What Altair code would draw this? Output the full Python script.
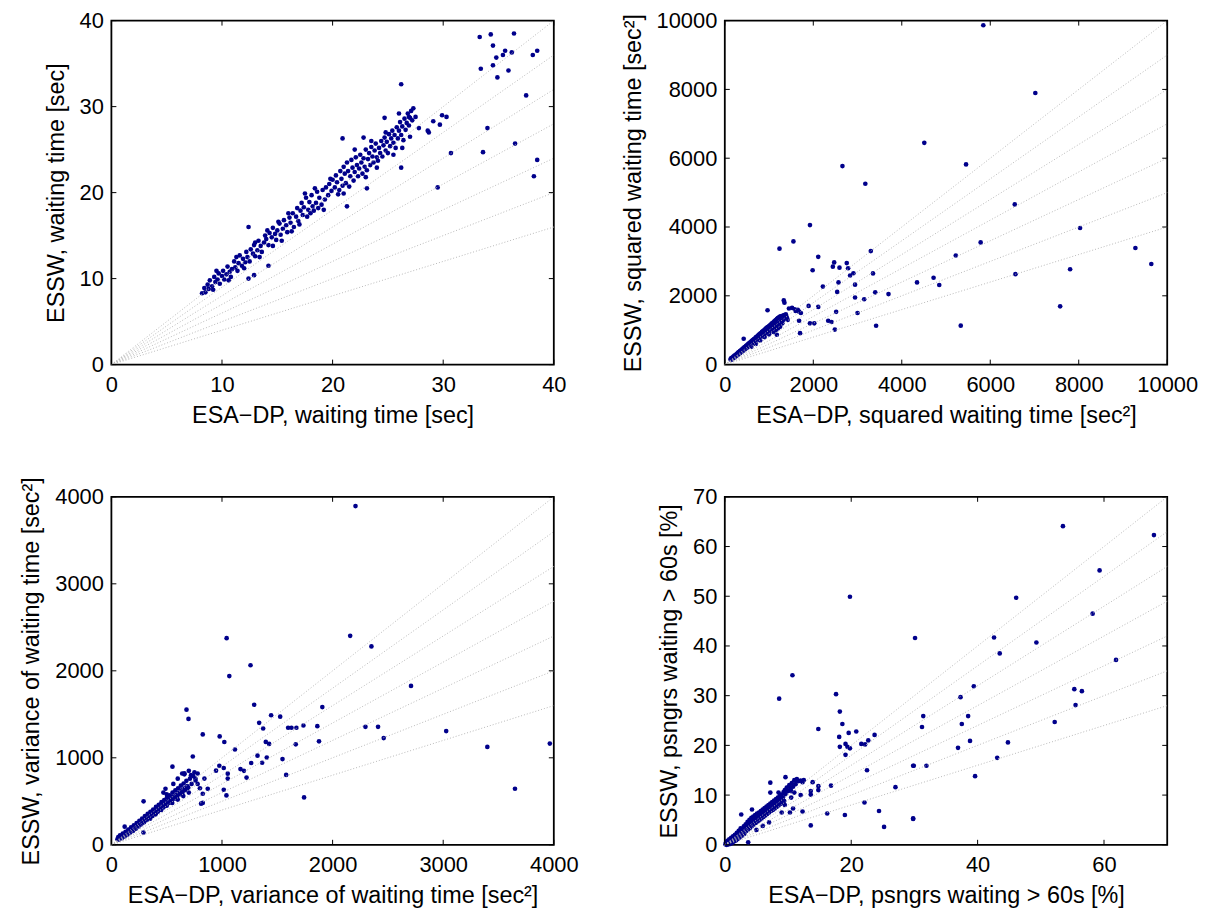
import altair as alt
import pandas as pd

# ---------------- data ----------------
SLOPES = [1.0, 0.9, 0.8, 0.7, 0.6, 0.5, 0.4]

p1_ticks = [0, 10, 20, 30, 40]
p2_ticks = [0, 2000, 4000, 6000, 8000, 10000]
p3_ticks = [0, 1000, 2000, 3000, 4000]
p4_xticks = [0, 20, 40, 60]
p4_yticks = [0, 10, 20, 30, 40, 50, 60, 70]

p1_points = [
    (8.2, 8.3), (8.4, 8.9), (8.5, 8.4), (8.7, 9.3), (8.8, 8.8), (8.9, 9.8), (9.1, 9.1), (9.2, 8.7),
    (9.3, 10.2), (9.4, 9.6), (9.6, 9.9), (9.7, 10.6), (9.8, 9.4), (10.0, 10.3), (10.1, 10.9), (10.2, 9.9),
    (10.4, 10.5), (10.5, 11.4), (10.7, 10.8), (10.8, 10.2), (10.9, 11.1), (11.1, 12.0), (11.2, 11.3),
    (11.4, 10.9), (11.5, 11.8), (11.6, 12.7), (11.8, 11.5), (11.9, 12.3), (12.1, 11.9), (12.2, 13.1),
    (12.3, 12.5), (12.5, 12.0), (12.6, 13.4), (12.8, 12.9), (12.9, 13.9), (13.0, 12.6), (13.2, 13.3),
    (13.3, 14.4), (13.5, 13.8), (13.6, 13.1), (13.8, 14.2), (13.9, 15.0), (14.0, 14.6), (14.2, 13.9),
    (14.3, 15.3), (14.5, 14.8), (14.6, 15.9), (14.8, 15.2), (14.9, 14.5), (15.0, 15.6), (15.2, 16.4),
    (15.3, 15.1), (15.5, 15.8), (15.6, 16.8), (15.8, 16.2), (15.9, 15.4), (16.1, 17.1), (16.2, 16.5),
    (16.4, 17.6), (16.5, 16.0), (16.7, 17.2), (16.8, 18.2), (16.9, 16.7), (17.1, 17.9), (17.2, 18.8),
    (17.3, 17.4), (17.4, 18.3), (17.6, 19.4), (17.7, 17.2), (17.8, 18.0), (17.9, 18.9), (18.0, 17.6),
    (18.1, 19.7), (18.2, 18.4), (18.3, 17.9), (18.5, 18.8), (18.6, 20.1), (18.7, 18.2), (18.8, 19.4),
    (19.0, 18.6), (19.1, 20.3), (19.3, 19.2), (19.4, 20.6), (19.6, 19.7), (19.7, 21.0), (19.9, 20.2),
    (20.0, 21.5), (20.2, 20.6), (20.3, 22.0), (20.4, 21.2), (20.6, 20.3), (20.7, 22.5), (20.8, 21.6),
    (20.9, 20.8), (21.0, 23.0), (21.1, 22.2), (21.2, 21.1), (21.3, 23.5), (21.4, 22.5), (21.5, 20.7),
    (21.6, 21.9), (21.7, 23.8), (21.8, 22.9), (21.9, 21.4), (22.0, 22.4), (22.1, 24.1), (22.2, 23.2),
    (22.3, 21.9), (22.4, 22.8), (22.5, 24.4), (22.6, 23.5), (22.7, 22.2), (22.8, 24.0), (22.9, 23.0),
    (23.0, 25.0), (23.1, 22.6), (23.2, 23.9), (23.3, 24.6), (23.4, 23.2), (23.5, 25.3), (23.6, 24.2),
    (23.7, 23.5), (23.8, 24.9), (23.9, 25.7), (24.0, 24.1), (24.1, 23.7), (24.2, 25.2), (24.3, 24.6),
    (24.4, 26.0), (24.5, 24.2), (24.6, 25.5), (24.7, 26.4), (24.8, 24.9), (24.9, 25.9), (25.0, 24.6),
    (25.1, 26.8), (25.2, 25.4), (25.3, 26.3), (25.4, 27.2), (25.5, 25.8), (25.6, 26.7), (25.7, 25.2),
    (25.8, 27.6), (25.9, 26.3), (26.0, 27.2), (26.1, 28.2), (26.2, 26.7), (26.3, 27.7), (26.4, 26.1),
    (26.5, 28.6), (26.6, 27.3), (26.7, 28.1), (26.8, 29.2), (26.9, 27.8), (27.0, 28.7), (27.1, 29.5),
    (27.2, 28.4), (27.3, 29.8),
    (9.5, 10.9), (10.6, 9.8), (11.3, 12.5), (12.0, 11.2), (13.4, 12.5), (13.0, 14.2), (14.6, 13.8),
    (14.1, 15.6), (15.4, 14.4), (15.1, 16.6), (16.3, 15.5), (16.0, 17.6), (17.0, 16.3), (17.5, 19.9),
    (18.4, 20.5), (19.2, 18.0), (19.8, 21.6), (20.5, 19.8), (21.0, 19.9), (22.0, 25.0), (23.0, 21.8),
    (23.5, 26.0), (24.0, 22.9), (24.8, 27.0), (25.5, 24.4), (26.3, 25.2), (27.0, 26.5), (27.5, 28.8),
    (12.4, 16.0), (12.4, 10.0), (12.9, 10.4), (14.2, 11.5), (24.7, 28.7), (26.0, 29.2), (26.9, 28.8),
    (27.8, 27.5), (28.6, 27.2), (28.7, 27.0), (29.1, 28.3), (29.7, 27.9), (29.9, 29.0), (30.3, 28.8),
    (26.2, 32.6), (26.2, 22.9), (23.1, 20.5), (20.9, 26.3), (22.8, 26.4), (21.3, 18.4), (30.7, 24.6),
    (29.5, 20.6), (33.3, 38.1), (34.3, 38.4), (36.4, 38.5), (34.5, 37.1), (34.8, 35.7), (35.6, 36.5),
    (35.4, 36.0), (36.2, 36.3), (34.5, 34.8), (33.4, 34.4), (34.9, 33.4), (35.9, 34.2), (38.1, 36.0),
    (38.5, 36.5), (37.5, 31.3), (34.0, 27.5), (36.5, 25.7), (33.6, 24.7), (38.5, 23.8), (38.2, 21.9),
]

p2_points = [
    (130, 150), (140, 180), (150, 140), (160, 200), (170, 165), (180, 215), (190, 185), (200, 240),
    (210, 200), (220, 260), (230, 225), (240, 275), (250, 240), (260, 300), (270, 265), (280, 320),
    (290, 280), (300, 350), (310, 300), (320, 365), (330, 330), (340, 390), (350, 340), (360, 410),
    (370, 370), (380, 430), (390, 380), (400, 455), (410, 405), (420, 470), (430, 420), (440, 500),
    (450, 440), (460, 520), (470, 470), (480, 545), (490, 490), (500, 560), (510, 500), (520, 590),
    (530, 540), (540, 610), (550, 545), (560, 630), (570, 575), (580, 650), (590, 590), (600, 680),
    (610, 610), (620, 700), (630, 630), (640, 720), (650, 650), (660, 740), (670, 660), (680, 760),
    (690, 690), (700, 790), (710, 700), (720, 810), (730, 730), (740, 830), (750, 740), (760, 860),
    (770, 770), (780, 880), (790, 780), (800, 900), (810, 810), (820, 920), (830, 820), (840, 950),
    (850, 840), (860, 970), (870, 860), (880, 990), (890, 880), (900, 1010), (910, 900), (920, 1040),
    (930, 910), (940, 1060), (950, 950), (960, 1080), (970, 940), (980, 1100), (990, 990), (1000, 1120),
    (1010, 980), (1020, 1140), (1030, 1030), (1040, 1160), (1050, 1010), (1060, 1190), (1070, 1060),
    (1080, 1210), (1090, 1050), (1100, 1230), (1110, 1100), (1120, 1260), (1130, 1090), (1140, 1280),
    (1150, 1140), (1160, 1300), (1170, 1120), (1180, 1330), (1190, 1180), (1200, 1350), (1210, 1160),
    (1220, 1370), (1230, 1210), (1240, 1390), (1250, 1230), (1260, 1400), (1280, 1280), (1300, 1420),
    (1320, 1300), (1340, 1440), (1360, 1350), (1380, 1460), (1400, 1380), (1420, 1300),
    (427, 752), (600, 520), (700, 600), (800, 700), (900, 800), (1000, 880), (1100, 950), (1200, 1050),
    (1250, 1100), (1300, 1200), (1150, 1000), (1176, 867), (966, 1581), (1333, 1867), (1348, 1800),
    (1450, 1630), (1520, 1650), (1580, 1610), (1600, 1560), (1650, 1590), (1680, 1540), (1720, 1500),
    (1679, 1276), (1701, 914), (1895, 1705), (2112, 1676), (2517, 1533), (1925, 1200), (2022, 1200),
    (2337, 1276), (2412, 1238), (2487, 1019), (1925, 4057), (1551, 3581), (1236, 3371), (2112, 3133),
    (2472, 2971), (2442, 2848), (2592, 2819), (2757, 2952), (2787, 2800), (2832, 2590), (2907, 2657),
    (1985, 2743), (2217, 2267), (2570, 2390), (2944, 2324), (2944, 1952), (2540, 2114),
    (3300, 3300), (3350, 2650), (3400, 2100), (3420, 1130), (3150, 1900), (3000, 1500), (3700, 2050),
    (2659, 5771), (3176, 5257), (4509, 6448), (5453, 5819), (5843, 9866), (7019, 7895), (6554, 4657),
    (8030, 3971), (5783, 3552), (5221, 3171), (9281, 3390), (9640, 2924), (7805, 2771), (6569, 2629),
    (4345, 2390), (4719, 2524), (4847, 2314), (7580, 1695), (5333, 1133),
]

p3_points = [
    (55, 65), (62, 90), (70, 60), (78, 110), (86, 85), (95, 75), (103, 130), (112, 105), (120, 95),
    (128, 150), (137, 125), (145, 115), (153, 175), (162, 150), (170, 140), (178, 200), (187, 170),
    (195, 160), (203, 225), (212, 195), (220, 185), (228, 250), (237, 220), (245, 210), (253, 275),
    (262, 245), (270, 235), (278, 300), (287, 270), (295, 258), (303, 330), (312, 295), (320, 285),
    (328, 355), (337, 320), (345, 305), (353, 380), (362, 345), (370, 330), (378, 405), (387, 370),
    (395, 355), (403, 435), (412, 395), (420, 380), (428, 460), (437, 420), (445, 405), (453, 490),
    (462, 445), (470, 430), (478, 515), (487, 470), (495, 455), (503, 545), (512, 500), (520, 480),
    (528, 570), (537, 525), (545, 505), (553, 600), (562, 550), (570, 530), (578, 625), (587, 575),
    (595, 555), (603, 650), (612, 600), (620, 580), (628, 680), (637, 625), (645, 605), (653, 705),
    (662, 650), (670, 630), (678, 735), (687, 675), (695, 655), (710, 760), (725, 700), (740, 790),
    (760, 740), (780, 820),
    (120, 208), (291, 500), (290, 140), (489, 644), (552, 898), (470, 600), (500, 580), (560, 700),
    (600, 760), (640, 820), (660, 810), (700, 850), (720, 800), (760, 760), (780, 700), (800, 650),
    (350, 300), (400, 350), (450, 400), (500, 450), (550, 480), (600, 520), (650, 560), (700, 600),
    (811, 473), (660, 822), (751, 833), (946, 852), (976, 909), (1016, 883), (1052, 818), (1052, 761),
    (841, 761), (826, 587), (826, 481), (1016, 633), (1040, 568), (871, 644), (736, 1015), (1167, 870),
    (1198, 850), (1222, 773), (1264, 940), (1363, 943), (1321, 1025), (1405, 1003), (1547, 985),
    (1580, 803), (1742, 545), (826, 1269), (979, 1246), (1021, 1182), (1117, 1095), (1396, 1183),
    (1426, 1160), (1667, 1155), (1877, 1189), (1598, 1345), (1628, 1345), (1673, 1345), (1736, 1371),
    (1862, 1364), (2297, 1356), (2411, 1356), (2462, 1227), (1336, 1402), (1372, 1337), (1444, 1489),
    (1526, 1473), (1291, 1610), (1907, 1583), (679, 1553), (697, 1447), (1042, 2375), (1066, 1939),
    (1258, 2064), (2159, 2402), (2351, 2280), (2207, 3894), (2709, 1826), (3027, 1307), (3399, 1125),
    (3649, 644), (3964, 1163),
]

p4_points = [
    (0.1, 0.1), (0.2, 0.5), (0.3, 0.0), (0.4, 0.8), (0.5, 0.3), (0.6, 0.1), (0.7, 1.1), (0.8, 0.6),
    (0.9, 0.2), (1.0, 1.4), (1.1, 0.9), (1.2, 0.4), (1.3, 1.7), (1.4, 1.1), (1.5, 0.7), (1.6, 2.0),
    (1.7, 1.4), (1.8, 0.9), (1.9, 2.4), (2.0, 1.6), (2.1, 1.2), (2.2, 2.8), (2.3, 2.0), (2.4, 1.5),
    (2.5, 3.3), (2.6, 2.3), (2.7, 1.8), (2.8, 3.0), (2.9, 2.6), (3.0, 3.7), (3.1, 2.2), (3.2, 3.2),
    (3.3, 4.1), (3.4, 2.8), (3.5, 3.6), (3.6, 4.6), (3.7, 3.1), (3.8, 4.0), (3.9, 5.0), (4.0, 3.4),
    (4.1, 4.4), (4.2, 5.4), (4.3, 3.8), (4.4, 4.7), (4.5, 5.7), (4.6, 4.1), (4.7, 5.1), (4.8, 6.0),
    (4.9, 4.4), (5.0, 5.4), (5.1, 6.3), (5.2, 4.7), (5.3, 5.7), (5.4, 6.5), (5.5, 5.0), (5.6, 6.0),
    (5.7, 6.8), (5.8, 5.3), (5.9, 6.2), (6.0, 7.1), (6.1, 5.6), (6.2, 6.5), (6.3, 7.4), (6.4, 5.9),
    (6.5, 6.8), (6.6, 7.7), (6.7, 6.2), (6.8, 7.1), (6.9, 8.0), (7.0, 6.5), (7.1, 7.4), (7.2, 8.3),
    (7.3, 6.8), (7.4, 7.7), (7.5, 8.6), (7.6, 7.0), (7.7, 8.0), (7.8, 8.9), (7.9, 7.3), (8.0, 8.3),
    (8.1, 9.2), (8.2, 7.6), (8.3, 8.6), (8.4, 9.5), (8.5, 7.9), (8.6, 8.9), (8.7, 9.8), (8.8, 8.2),
    (8.9, 9.2), (9.0, 10.1), (9.1, 8.5), (9.2, 9.5), (9.3, 10.6), (9.4, 8.8), (9.5, 11.0), (9.6, 10.2),
    (9.8, 11.5), (10.0, 10.8), (10.2, 12.0), (10.4, 11.3), (10.6, 12.4), (10.8, 11.7), (11.0, 13.0),
    (11.2, 12.2), (11.4, 13.2), (11.6, 12.8), (12.0, 12.9), (12.3, 12.6), (2.6, 6.1), (4.3, 7.1),
    (3.7, 0.5), (7.2, 10.5), (7.2, 12.5), (9.6, 13.6), (10.5, 10.8), (8.5, 10.5), (9.5, 8.0),
    (10.5, 9.5), (11.0, 10.5), (12.0, 10.0), (9.0, 6.5), (7.0, 4.5), (6.0, 3.8), (5.0, 3.0),
    (10.3, 6.5), (10.8, 7.3), (12.3, 6.7), (12.5, 13.0), (13.6, 10.8), (13.6, 10.1), (13.6, 3.9),
    (13.9, 12.6), (14.8, 11.8), (14.8, 11.0), (16.8, 11.9), (16.2, 6.3), (19.0, 6.0), (22.1, 8.5),
    (24.4, 6.8), (25.2, 3.6), (29.8, 5.3), (27.0, 11.6), (22.5, 15.0), (29.8, 15.9), (21.6, 20.3),
    (22.2, 20.2), (22.7, 21.0), (19.1, 20.3), (19.4, 19.7), (19.8, 19.4), (19.1, 18.1), (18.1, 21.7),
    (18.2, 19.7), (19.6, 22.5), (20.8, 22.8), (23.7, 22.1), (14.8, 23.3), (18.6, 24.3), (18.2, 26.8),
    (17.6, 30.3), (8.6, 29.4), (10.7, 34.1), (19.8, 49.9), (30.1, 41.6),
    (53.5, 64.1), (67.9, 62.3), (59.3, 55.2), (46.1, 49.7), (58.2, 46.5), (42.6, 41.7), (49.3, 40.7),
    (43.5, 38.5), (61.9, 37.2), (39.4, 31.9), (37.3, 29.7), (55.3, 31.3), (56.5, 30.9), (55.5, 28.1),
    (31.4, 25.9), (31.2, 23.7), (38.5, 25.9), (37.5, 24.3), (52.2, 24.7), (38.8, 20.9), (44.8, 20.6),
    (36.9, 19.5), (43.1, 17.5), (29.9, 15.9), (31.9, 15.9), (39.6, 13.8), (29.8, 5.2),
]

# ---------------- styling ----------------
W = 445
H_TOP, H_BOT = 346, 350
TL = 5
FONT = "Liberation Sans"
NAVY = "#00008b"
# invisible frame that fixes every panel's bounding box, so the grid aligns
BOX_L, BOX_R, BOX_B = -100, W + 20, 75
BOX_T_TOP, BOX_T_BOT = -14, -30


def panel(points, vmax, xticks, yticks, xtitle, ytitle, h, box_t):
    df = pd.DataFrame(points, columns=["x", "y"])
    xs = alt.Scale(domain=[0, vmax], nice=False, zero=False)
    ys = alt.Scale(domain=[0, vmax], nice=False, zero=False)
    ref = pd.DataFrame({
        "x0": [0] * len(SLOPES), "y0": [0] * len(SLOPES),
        "x1": [vmax] * len(SLOPES), "y1": [k * vmax for k in SLOPES],
    })
    pts = alt.Chart(df).mark_circle(size=22, color=NAVY, opacity=1).encode(
        x=alt.X("x:Q", scale=xs, title=xtitle,
                axis=alt.Axis(values=xticks, format="d", labelFlush=False, labelOverlap=False,
                              labelPadding=10, titlePadding=8)),
        y=alt.Y("y:Q", scale=ys, title=ytitle,
                axis=alt.Axis(values=yticks, format="d", labelOverlap=False,
                              labelPadding=8, titlePadding=11)),
    )
    lines = alt.Chart(ref).mark_rule(color="#b8b8b8", strokeDash=[1, 2], strokeWidth=1).encode(
        x="x0:Q", y="y0:Q", x2="x1:Q", y2="y1:Q",
    )
    xt = pd.DataFrame({"t": xticks})
    yt = pd.DataFrame({"t": yticks})
    bt = alt.Chart(xt).mark_rule(color="black", strokeWidth=1).encode(
        x="t:Q", y=alt.value(h), y2=alt.value(h - TL))
    tt = alt.Chart(xt).mark_rule(color="black", strokeWidth=1).encode(
        x="t:Q", y=alt.value(0), y2=alt.value(TL))
    lt = alt.Chart(yt).mark_rule(color="black", strokeWidth=1).encode(
        y="t:Q", x=alt.value(0), x2=alt.value(TL))
    rt = alt.Chart(yt).mark_rule(color="black", strokeWidth=1).encode(
        y="t:Q", x=alt.value(W), x2=alt.value(W - TL))
    frame = alt.Chart(pd.DataFrame({"t": [0]})).mark_rule(strokeOpacity=0, opacity=0).encode(
        x=alt.value(BOX_L), x2=alt.value(BOX_R), y=alt.value(box_t), y2=alt.value(h + BOX_B))
    return alt.layer(pts, lines, bt, tt, lt, rt, frame).properties(width=W, height=h)


p1 = panel(p1_points, 40, p1_ticks, p1_ticks,
           "ESA\u2212DP, waiting time [sec]", "ESSW, waiting time [sec]", H_TOP, BOX_T_TOP)
p2 = panel(p2_points, 10000, p2_ticks, p2_ticks,
           "ESA\u2212DP, squared waiting time [sec\u00b2]", "ESSW, squared waiting time [sec\u00b2]",
           H_TOP, BOX_T_TOP)
p3 = panel(p3_points, 4000, p3_ticks, p3_ticks,
           "ESA\u2212DP, variance of waiting time [sec\u00b2]", "ESSW, variance of waiting time [sec\u00b2]",
           H_BOT, BOX_T_BOT)
p4 = panel(p4_points, 70, p4_xticks, p4_yticks,
           "ESA\u2212DP, psngrs waiting > 60s [%]", "ESSW, psngrs waiting > 60s [%]", H_BOT, BOX_T_BOT)

HSP = 610 - (BOX_R - BOX_L)
# row 1 plot top at page y=17, row 2 plot top at page y=494
VSP = (494 - 17) - (H_TOP + BOX_B) + BOX_T_BOT

row1 = alt.hconcat(p1, p2, spacing=HSP)
row2 = alt.hconcat(p3, p4, spacing=HSP)

chart = alt.vconcat(row1, row2, spacing=VSP).properties(
    padding={"left": 3, "top": -5, "right": 5, "bottom": 5}
).configure(
    background="white"
).configure_view(
    stroke="black", strokeWidth=1.8
).configure_axis(
    labelFont=FONT, titleFont=FONT, labelFontSize=22, titleFontSize=23.5,
    titleFontWeight="normal", labelColor="black", titleColor="black",
    ticks=False, domain=False, grid=False,
)

chart.save("out.html", embed_options={"renderer": "svg", "actions": False})
